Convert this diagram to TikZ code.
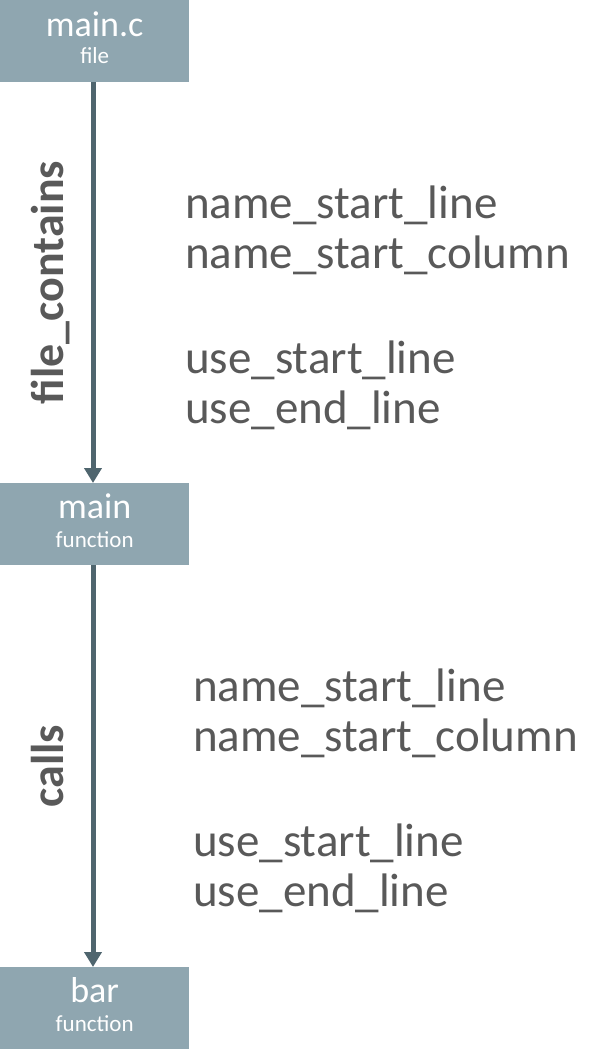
\documentclass[tikz,border=0pt]{standalone}
\usepackage{fontspec}
\setmainfont{Carlito}
\usetikzlibrary{arrows.meta,calc}

\definecolor{boxfill}{RGB}{143,166,176}
\definecolor{edgecol}{RGB}{79,101,110}
\definecolor{txtgrey}{RGB}{89,89,89}

\begin{document}
\begin{tikzpicture}[x=1pt,y=-1pt,
  entity/.style={rectangle, fill=boxfill, draw=none, minimum width=189pt,
    minimum height=82pt, inner sep=0pt, anchor=north west},
  bigname/.style={text=white, font=\fontsize{36}{38}\selectfont, anchor=base, inner sep=0pt},
  kindname/.style={text=white, font=\fontsize{23}{25}\selectfont, anchor=base, inner sep=0pt},
  relation/.style={draw=edgecol, line width=5pt,
    -{Triangle[width=17pt,length=15pt]}},
  rellabel/.style={text=txtgrey, font=\bfseries\fontsize{46}{48}\selectfont,
    rotate=90, anchor=base, inner sep=0pt},
  attr/.style={text=txtgrey, font=\fontsize{47}{50}\selectfont, anchor=base west, inner sep=0pt}
]
\useasboundingbox (0,0) rectangle (590,1053);

% entities
\node[entity] (file) at (0,0) {};
\node[bigname]  (fileA) at ($(file.north)+(0,36)$) {main.c};
\node[kindname] (fileB) at ($(file.north)+(0,63)$) {file};

\node[entity] (mainf) at (0,483) {};
\node[bigname]  (mainA) at ($(mainf.north)+(0,35)$) {main};
\node[kindname] (mainB) at ($(mainf.north)+(0,64)$) {function};

\node[entity] (barf) at (0,967) {};
\node[bigname]  (barA) at ($(barf.north)+(0,35)$) {bar};
\node[kindname] (barB) at ($(barf.north)+(0,64)$) {function};

% relations, labelled along their left side
\draw[relation] (file.south -| 93,0) -- node[midway, xshift=-30pt, rellabel] (rel1) {file\_contains} (mainf.north -| 93,0);
\draw[relation] (mainf.south -| 93,0) -- node[midway, xshift=-30pt, rellabel] (rel2) {calls} (barf.north -| 93,0);

% attributes of the first relation
\node[attr] (a1) at (185,218) {name\_start\_line};
\node[attr] (a2) at (185,268) {name\_start\_column};
\node[attr] (a3) at (185,373) {use\_start\_line};
\node[attr] (a4) at (185,423) {use\_end\_line};

% attributes of the second relation
\node[attr] (b1) at (193,701) {name\_start\_line};
\node[attr] (b2) at (193,751) {name\_start\_column};
\node[attr] (b3) at (193,856) {use\_start\_line};
\node[attr] (b4) at (193,906) {use\_end\_line};
\end{tikzpicture}
\end{document}
